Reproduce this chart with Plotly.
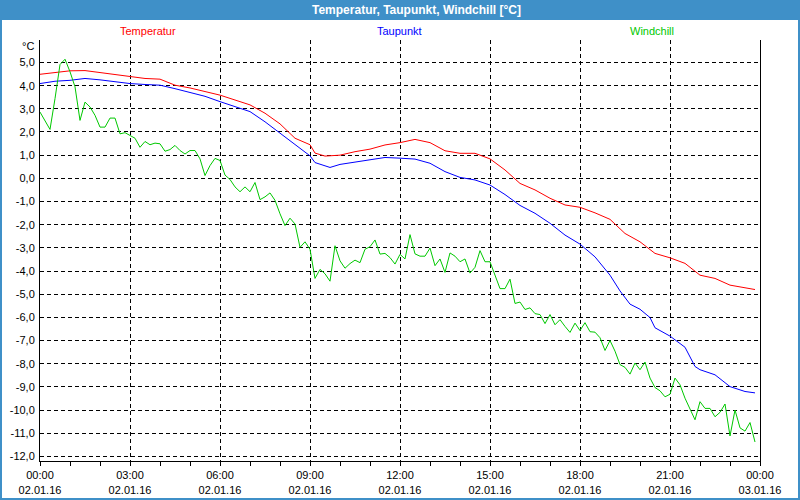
import pandas as pd
import plotly.graph_objects as go

# ---------------- data ----------------
day = "2016-01-02"
green_start = "2016-01-02 00:00"
windchill = [2.86, 2.50, 2.11, 3.44, 4.91, 5.14, 4.60, 3.95, 2.50, 3.29,
             3.08, 2.72, 2.21, 2.21, 2.60, 2.60, 1.92, 1.97, 1.85, 1.73,
             1.34, 1.59, 1.45, 1.52, 1.49, 1.17, 1.24, 1.42, 1.20, 1.05,
             1.20, 1.20, 0.84, 0.12, 0.55, 0.86, 0.77, 0.14, -0.05, -0.37,
             -0.58, -0.37, -0.58, -0.18, -0.92, -0.80, -0.63, -0.95, -1.53, -2.04,
             -1.72, -1.97, -2.98, -2.74, -3.06, -4.32, -3.93, -4.12, -4.44, -2.91,
             -3.56, -3.88, -3.68, -3.53, -3.64, -3.06, -2.95, -2.66, -3.27, -3.24,
             -3.42, -3.70, -3.28, -3.48, -2.43, -3.26, -3.36, -3.36, -3.01, -3.77,
             -3.48, -4.06, -3.22, -3.36, -3.60, -3.48, -4.09, -3.84, -3.12, -3.60,
             -3.60, -4.21, -4.76, -4.76, -4.35, -5.40, -5.34, -5.66, -5.59, -5.84,
             -5.88, -6.27, -5.88, -6.32, -6.10, -6.39, -6.65, -6.25, -6.57, -6.23,
             -6.62, -6.64, -6.88, -7.43, -7.00, -7.46, -8.04, -8.16, -8.45, -7.97,
             -8.26, -7.93, -8.62, -9.03, -9.17, -9.43, -9.32, -8.62, -8.91, -9.49,
             -9.93, -10.42, -9.64, -9.93, -9.93, -10.29, -10.10, -9.74, -11.12, -10.00,
             -10.77, -10.91, -10.54, -11.38]

temp_times = ["00:00", "00:30", "01:00", "01:30", "02:00", "02:30", "03:00", "03:30",
              "04:00", "04:30", "05:00", "05:30", "06:00", "06:30", "07:00", "07:30",
              "08:00", "08:30", "09:00", "09:10", "09:30", "10:00", "10:30", "11:00",
              "11:30", "12:00", "12:30", "13:00", "13:30", "14:00", "14:30", "15:00",
              "15:30", "16:00", "16:30", "17:00", "17:30", "18:00", "18:30", "19:00",
              "19:30", "20:00", "20:30", "21:00", "21:30", "22:00", "22:30", "23:00",
              "23:30", "23:50"]
temperatur = [4.49, 4.57, 4.64, 4.65, 4.57, 4.48, 4.41, 4.31,
              4.28, 4.02, 3.90, 3.76, 3.59, 3.38, 3.17, 2.81,
              2.35, 1.73, 1.45, 1.09, 0.96, 1.00, 1.15, 1.26,
              1.44, 1.54, 1.68, 1.54, 1.19, 1.08, 1.08, 0.84,
              0.36, -0.22, -0.50, -0.86, -1.15, -1.25, -1.49, -1.77,
              -2.38, -2.74, -3.24, -3.43, -3.67, -4.18, -4.32, -4.61,
              -4.73, -4.80]

dew_times = ["00:00", "00:30", "01:00", "01:30", "02:00", "02:30", "03:00", "03:30",
             "04:00", "04:30", "05:00", "05:30", "06:00", "06:30", "07:00", "07:30",
             "08:00", "08:30", "09:00", "09:10", "09:30", "09:40", "10:00", "10:30",
             "11:00", "11:30", "12:00", "12:30", "13:00", "13:30", "14:00", "14:30",
             "15:00", "15:30", "16:00", "16:30", "17:00", "17:30", "18:00", "18:30",
             "19:00", "19:20", "19:40", "20:00", "20:20", "20:30", "21:00", "21:30",
             "21:50", "22:00", "22:30", "23:00", "23:30", "23:50"]
taupunkt = [4.09, 4.19, 4.23, 4.31, 4.25, 4.16, 4.09, 4.05,
            4.02, 3.87, 3.70, 3.54, 3.31, 3.09, 2.88, 2.44,
            1.94, 1.45, 0.97, 0.68, 0.53, 0.47, 0.60, 0.70,
            0.79, 0.90, 0.87, 0.83, 0.65, 0.29, 0.04, -0.07,
            -0.29, -0.70, -1.17, -1.51, -1.94, -2.45, -2.84, -3.39,
            -4.18, -4.86, -5.43, -5.65, -6.01, -6.45, -6.81, -7.29,
            -8.12, -8.26, -8.48, -8.99, -9.20, -9.26]

x_tick_times = ["2016-01-02 00:00", "2016-01-02 03:00", "2016-01-02 06:00",
                "2016-01-02 09:00", "2016-01-02 12:00", "2016-01-02 15:00",
                "2016-01-02 18:00", "2016-01-02 21:00", "2016-01-03 00:00"]
x_tick_labels = ["00:00<br>02.01.16", "03:00<br>02.01.16", "06:00<br>02.01.16",
                 "09:00<br>02.01.16", "12:00<br>02.01.16", "15:00<br>02.01.16",
                 "18:00<br>02.01.16", "21:00<br>02.01.16", "00:00<br>03.01.16"]
y_tick_vals = [5, 4, 3, 2, 1, 0, -1, -2, -3, -4, -5, -6, -7, -8, -9, -10, -11, -12]
y_tick_labels = ["5,0", "4,0", "3,0", "2,0", "1,0", "0,0", "-1,0", "-2,0", "-3,0",
                 "-4,0", "-5,0", "-6,0", "-7,0", "-8,0", "-9,0", "-10,0", "-11,0", "-12,0"]

# ---------------- figure ----------------
green_x = pd.date_range(green_start, periods=len(windchill), freq="10min")
temp_x = pd.to_datetime([f"{day} {t}" for t in temp_times])
dew_x = pd.to_datetime([f"{day} {t}" for t in dew_times])

FONT = "Liberation Sans, Arial, sans-serif"
BLUE_FRAME = "#3f90c8"

fig = go.Figure()
fig.add_trace(go.Scatter(x=temp_x, y=temperatur, mode="lines",
                         line=dict(color="#ff0000", width=1), name="Temperatur"))
fig.add_trace(go.Scatter(x=dew_x, y=taupunkt, mode="lines",
                         line=dict(color="#0000ff", width=1), name="Taupunkt"))
fig.add_trace(go.Scatter(x=green_x, y=windchill, mode="lines",
                         line=dict(color="#00c800", width=1), name="Windchill"))

# plot area in px: left 40, right 760, top 40, bottom 461
L, R, T, B = 40, 760, 40, 461
W, H = 800, 500


def px_x(px):
    return (px - L) / (R - L)


def px_y(py):
    return (B - py) / (B - T)


fig.update_layout(
    width=W, height=H,
    autosize=False,
    margin=dict(l=L, r=W - R, t=T, b=H - B, pad=0, autoexpand=False),
    paper_bgcolor="white", plot_bgcolor="white",
    showlegend=False,
    font=dict(family=FONT, size=11, color="black"),
    hovermode=False,
    xaxis=dict(
        type="date", automargin=False,
        range=["2016-01-02 00:00", "2016-01-03 00:00"],
        tickmode="array", tickvals=x_tick_times, ticktext=x_tick_labels,
        ticks="outside", ticklen=4, tickcolor="black", tickwidth=1,
        showline=True, linecolor="black", linewidth=1,
        showgrid=True, gridcolor="black", gridwidth=1, griddash="4px,3px",
        zeroline=False,
        minor=dict(dtick=3600000, ticks="outside", ticklen=4, tickcolor="black",
                   showgrid=False),
        tickfont=dict(family=FONT, size=11, color="black"),
    ),
    yaxis=dict(
        automargin=False,
        range=[-12.2, 5.97],
        tickmode="array", tickvals=y_tick_vals, ticktext=y_tick_labels,
        ticks="", showline=True, linecolor="black", linewidth=1, mirror=True,
        showgrid=True, gridcolor="black", gridwidth=1, griddash="4px,3px",
        zeroline=False, ticklabelstandoff=2,
        tickfont=dict(family=FONT, size=11, color="black"),
    ),
)

shapes = [
    dict(type="rect", xref="paper", yref="paper",
         x0=px_x(0), x1=px_x(800), y0=px_y(0), y1=px_y(20),
         fillcolor=BLUE_FRAME, line=dict(width=0), layer="above"),
    dict(type="rect", xref="paper", yref="paper",
         x0=px_x(1), x1=px_x(799), y0=px_y(1), y1=px_y(499),
         line=dict(color=BLUE_FRAME, width=2), layer="above"),
]
fig.update_layout(shapes=shapes)

annotations = [
    dict(text="<b>Temperatur, Taupunkt, Windchill [°C]</b>", x=px_x(416), y=px_y(10),
         xref="paper", yref="paper", showarrow=False, xanchor="center", yanchor="middle",
         font=dict(family=FONT, size=12, color="white")),
    dict(text="Temperatur", x=px_x(148), y=px_y(31), xref="paper", yref="paper",
         showarrow=False, xanchor="center", yanchor="middle",
         font=dict(family=FONT, size=11, color="#ff0000")),
    dict(text="Taupunkt", x=px_x(399), y=px_y(31), xref="paper", yref="paper",
         showarrow=False, xanchor="center", yanchor="middle",
         font=dict(family=FONT, size=11, color="#0000ff")),
    dict(text="Windchill", x=px_x(652), y=px_y(31), xref="paper", yref="paper",
         showarrow=False, xanchor="center", yanchor="middle",
         font=dict(family=FONT, size=11, color="#00c800")),
    dict(text="°C", x=px_x(36), y=px_y(46), xref="paper", yref="paper",
         showarrow=False, xanchor="right", yanchor="middle",
         font=dict(family=FONT, size=11, color="black")),
]
fig.update_layout(annotations=annotations)

fig.write_html("out.html",
               config={"displayModeBar": False, "staticPlot": True},
               post_script="document.body.style.margin='0';"
                           "document.body.style.padding='0';"
                           "document.body.style.overflow='hidden';")
